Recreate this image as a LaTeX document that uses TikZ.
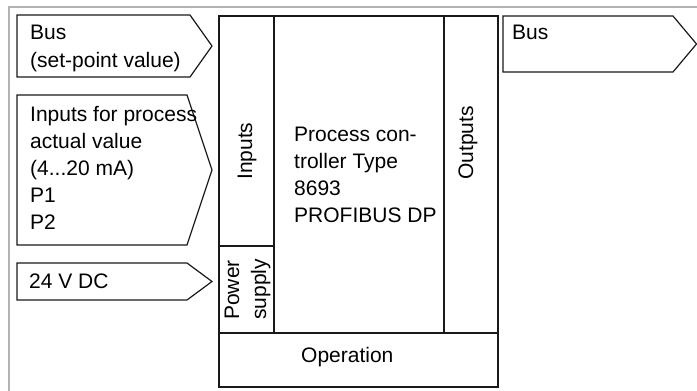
\documentclass[tikz,border=0pt]{standalone}
\usepackage{fontspec}
\setmainfont{Liberation Sans}
\begin{document}
\begin{tikzpicture}[x=1pt,y=-1pt,
  box/.style={draw=black!90,line width=1.2pt,line join=miter},
  frameline/.style={draw=black!30,line width=2pt},
  lbl/.style={inner sep=0pt,anchor=base west,font=\fontsize{21}{27}\selectfont},
  rlbl/.style={lbl,rotate=90}]
\useasboundingbox (0,0) rectangle (697,391);
\fill[white] (0,0) rectangle (697,391);
% frame
\coordinate (fTL) at (9,7);
\coordinate (fTR) at (697,7);
\coordinate (fBL) at (9,391);
\draw[frameline] (fTR) -- (fTL) -- (fBL);
% input arrows
\draw[box] (17,15) -- (190,15) -- (212,46) -- (190,77) -- (17,77) -- cycle;
\draw[box] (17,95) -- (187,95) -- (212,170) -- (187,245) -- (17,245) -- cycle;
\draw[box] (17,263) -- (187,263) -- (212,281.5) -- (187,300) -- (17,300) -- cycle;
% output arrow
\draw[box] (503,16) -- (673,16) -- (696.5,44) -- (673,72) -- (503,72) -- cycle;
% main block
\draw[box] (219,16) rectangle (498,387);
\draw[box] (274,16) -- (274,333);
\draw[box] (219,246) -- (274,246);
\draw[box] (444,16) -- (444,333);
\draw[box] (219,333) -- (498,333);
% texts
\node[lbl] (t1) at (30,39) {Bus};
\node[lbl] (t2) at (30,67.5) {(set-point value)};
\node[lbl] (t3) at (30,121.5) {Inputs for process};
\node[lbl] (t4) at (30,148.5) {actual value};
\node[lbl] (t5) at (30,175.5) {(4...20 mA)};
\node[lbl] (t6) at (30,202.5) {P1};
\node[lbl] (t7) at (30,229.5) {P2};
\node[lbl] (t8) at (29,288) {24 V DC};
\node[lbl] (t9) at (512,39) {Bus};
\node[rlbl] (t10) at (252,180) {Inputs};
\node[rlbl] (t11) at (473,180) {Outputs};
\node[rlbl] (t12) at (239,320) {Power};
\node[rlbl] (t13) at (266,320) {supply};
\node[lbl] (t14) at (294,141.5) {Process con-};
\node[lbl] (t15) at (294,168.5) {troller Type};
\node[lbl] (t16) at (294,195.5) {8693};
\node[lbl] (t17) at (294,222.5) {PROFIBUS DP};
\node[lbl] (t18) at (301,362) {Operation};
\end{tikzpicture}
\end{document}
